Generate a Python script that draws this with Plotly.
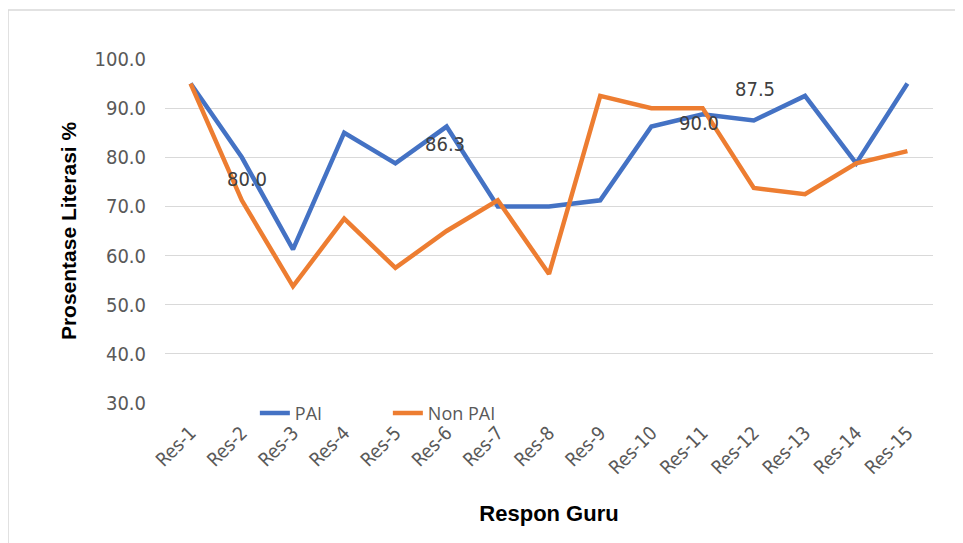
import plotly.graph_objects as go
from decimal import Decimal, ROUND_HALF_UP

categories = ["Res-1", "Res-2", "Res-3", "Res-4", "Res-5", "Res-6", "Res-7", "Res-8",
              "Res-9", "Res-10", "Res-11", "Res-12", "Res-13", "Res-14", "Res-15"]
pai = [95.0, 80.0, 61.25, 85.0, 78.75, 86.25, 70.0, 70.0, 71.25, 86.25, 88.75, 87.5, 92.5, 78.75, 95.0]
non_pai = [95.0, 71.25, 53.75, 67.5, 57.5, 65.0, 71.25, 56.25, 92.5, 90.0, 90.0, 73.75, 72.5, 78.75, 81.25]
y_ticks = [30, 40, 50, 60, 70, 80, 90, 100]

# data labels: (series, category index, x shift px, y shift px)
labels = [("pai", 1, 5, -22), ("pai", 5, -2, -17), ("pai", 11, 1, 31), ("non", 10, -4, -15)]

BLUE = "#4472C4"
ORANGE = "#ED7D31"
COND = "DejaVu Sans Condensed, Liberation Sans Narrow, Arial Narrow, sans-serif"


def fmt(v):
    return str(Decimal(str(v)).quantize(Decimal("0.1"), rounding=ROUND_HALF_UP))


fig = go.Figure()
fig.add_trace(go.Scatter(x=categories, y=pai, mode="lines", name="PAI",
                         line=dict(color=BLUE, width=4.5)))
fig.add_trace(go.Scatter(x=categories, y=non_pai, mode="lines", name="Non PAI",
                         line=dict(color=ORANGE, width=4.5)))

series = {"pai": pai, "non": non_pai}
for s, i, dx, dy in labels:
    fig.add_annotation(x=categories[i], y=series[s][i], text=fmt(series[s][i]),
                       showarrow=False, xshift=dx, yshift=dy,
                       font=dict(family=COND, size=20, color="#404040"))

fig.add_shape(type="rect", xref="paper", yref="paper",
              x0=-0.2044, y0=-0.7, x1=1.2, y1=1.1424,
              line=dict(color="#D9D9D9", width=1.5), layer="below")

fig.update_layout(
    width=955, height=535,
    margin=dict(l=157, r=30, t=51, b=140),
    paper_bgcolor="white", plot_bgcolor="white",
    showlegend=True,
    legend=dict(orientation="h", x=0.117, y=-0.03, xanchor="left", yanchor="middle",
                entrywidth=88, entrywidthmode="pixels",
                font=dict(family="Open Sans, Liberation Sans, sans-serif", size=18, color="#595959"),
                bgcolor="rgba(0,0,0,0)", itemwidth=30),
    xaxis=dict(type="category", range=[-0.5, 14.5], showgrid=False, zeroline=False,
               showline=False, tickangle=-45, ticklabelstandoff=14,
               tickfont=dict(family=COND, size=19, color="#595959"),
               title=dict(text="<b>Respon Guru</b>", standoff=28,
                          font=dict(family="Liberation Sans, Arial, sans-serif", size=22, color="black"))),
    yaxis=dict(range=[30, 100], tickvals=y_ticks, tickformat=".1f",
               showgrid=True, gridcolor="#D9D9D9", gridwidth=1.3, zeroline=False, showline=False,
               ticklabelstandoff=18,
               tickfont=dict(family=COND, size=20, color="#595959"),
               title=dict(text="<b>Prosentase Literasi %</b>", standoff=12,
                          font=dict(family="Liberation Sans, Arial, sans-serif", size=21, color="black"))),
)

fig.write_html("out.html")
